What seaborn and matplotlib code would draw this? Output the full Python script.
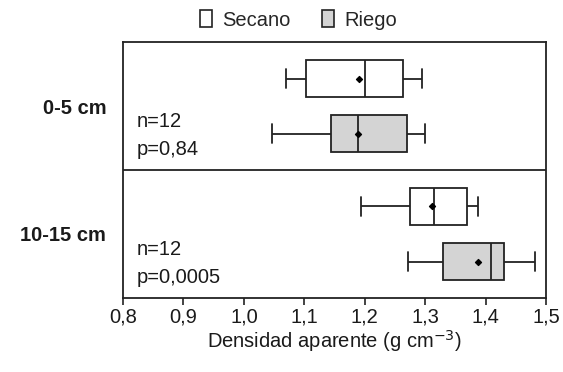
import numpy as np
import pandas as pd
import matplotlib
matplotlib.use("Agg")
import matplotlib.pyplot as plt
from matplotlib.patches import Patch
import seaborn as sns

# ---- data ----
depths = ["0-5 cm", "10-15 cm"]
treatments = ["Secano", "Riego"]

secano_min = [1.069, 1.193]
secano_q1 = [1.102, 1.275]
secano_med = [1.200, 1.315]
secano_q3 = [1.263, 1.369]
secano_max = [1.294, 1.387]
secano_mean = [1.191, 1.312]

riego_min = [1.047, 1.271]
riego_q1 = [1.144, 1.329]
riego_med = [1.189, 1.409]
riego_q3 = [1.270, 1.431]
riego_max = [1.299, 1.482]
riego_mean = [1.189, 1.388]

n_labels = ["n=12", "n=12"]
p_labels = ["p=0,84", "p=0,0005"]
xticks = [0.8, 0.9, 1.0, 1.1, 1.2, 1.3, 1.4, 1.5]
xtick_labels = ["0,8", "0,9", "1,0", "1,1", "1,2", "1,3", "1,4", "1,5"]

# ---- build long table (5-number summaries -> exact quartiles) ----
rows = []
stats = {
    "Secano": (secano_min, secano_q1, secano_med, secano_q3, secano_max),
    "Riego": (riego_min, riego_q1, riego_med, riego_q3, riego_max),
}
for t in treatments:
    for i, d in enumerate(depths):
        for arr in stats[t]:
            rows.append({"depth": d, "trat": t, "value": arr[i]})
df = pd.DataFrame(rows)

sns.set_style("white")
plt.rcParams["font.family"] = ["Liberation Sans", "DejaVu Sans"]
FS = 14.5

fig = plt.figure(figsize=(5.63, 3.72), dpi=100)
ax = fig.add_axes([0.2185, 0.199, 0.7515, 0.688])

line_c = "#222222"
txt_c = "#1a1a1a"
width = 0.86
sns.boxplot(data=df, x="value", y="depth", hue="trat", order=depths,
            hue_order=treatments, orient="h", whis=(0, 100), width=width,
            gap=0.33, palette={"Secano": "white", "Riego": "#d4d4d4"},
            linecolor=line_c, linewidth=1.3, showfliers=False, legend=False,
            ax=ax)

# means
offs = {"Secano": -width / 4, "Riego": width / 4}
means = {"Secano": secano_mean, "Riego": riego_mean}
for t in treatments:
    ys = [i + offs[t] for i in range(len(depths))]
    ax.scatter(means[t], ys, marker="D", s=9, color="black", zorder=5)

ax.axhline(0.5, color=line_c, lw=1.3)
ax.set_xlim(0.8, 1.5)
ax.set_ylim(1.5, -0.5)
ax.set_xticks(xticks)
ax.set_xticklabels(xtick_labels, fontsize=FS, color=txt_c)
ax.set_yticks(range(len(depths)))
ax.set_yticklabels(depths, fontsize=FS, fontweight="bold", color=txt_c)
ax.tick_params(axis="y", length=0, pad=12)
ax.tick_params(axis="x", length=5, width=1.2, direction="out", color=line_c,
               bottom=True, pad=2)
ax.set_ylabel("")
ax.set_xlabel("Densidad aparente (g cm$^{-3}$)", fontsize=FS, labelpad=1,
              color=txt_c)
for s in ax.spines.values():
    s.set_visible(True)
    s.set_color(line_c)
    s.set_linewidth(1.3)

for i in range(len(depths)):
    ax.text(0.823, i + 0.12, n_labels[i], fontsize=FS, va="center", ha="left",
            color=txt_c)
    ax.text(0.823, i + 0.34, p_labels[i], fontsize=FS, va="center", ha="left",
            color=txt_c)

handles = [Patch(facecolor="white", edgecolor=line_c, lw=1.2, label="Secano"),
           Patch(facecolor="#d4d4d4", edgecolor=line_c, lw=1.2, label="Riego")]
fig.legend(handles=handles, loc="center", bbox_to_anchor=(0.53, 0.946),
           ncol=2, frameon=False, fontsize=FS, handlelength=0.6,
           handleheight=0.9, handletextpad=0.5, columnspacing=1.6)

fig.savefig("out.png", dpi=100)
